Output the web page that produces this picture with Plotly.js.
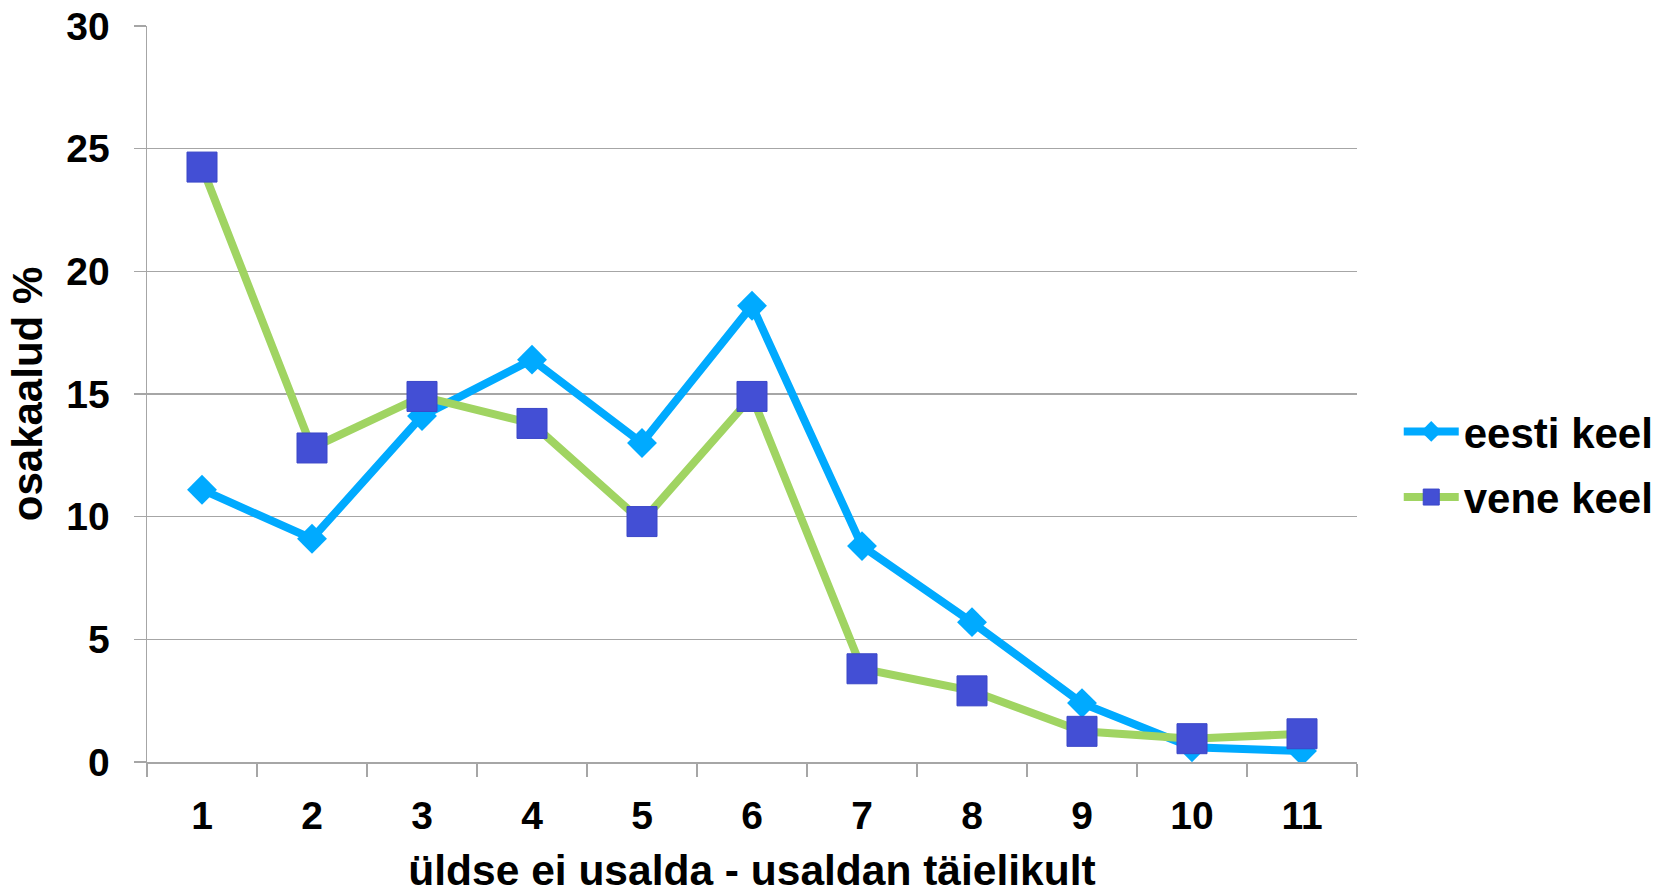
<!DOCTYPE html>
<html>
<head>
<meta charset="utf-8">
<script src="https://cdn.plot.ly/plotly-3.0.1.min.js"></script>
<style>html,body{margin:0;padding:0;background:#fff;}#chart{width:1659px;height:894px;}</style>
</head>
<body>
<div id="chart"></div>
<script>
const categories = ["1","2","3","4","5","6","7","8","9","10","11"];
const eestiKeel = [11.1, 9.1, 14.1, 16.4, 13.0, 18.6, 8.8, 5.7, 2.4, 0.6, 0.45];
const veneKeel = [24.25, 12.8, 14.9, 13.8, 9.8, 14.9, 3.8, 2.9, 1.25, 0.95, 1.15];
const seriesNames = ["eesti keel", "vene keel"];
const xTitle = "üldse ei usalda - usaldan täielikult";
const yTitle = "osakaalud %";

const FONT = "Liberation Sans, Arial, sans-serif";

const traces = [
  {
    x: categories, y: eestiKeel, name: seriesNames[0], type: "scatter", mode: "lines+markers",
    legendgroup: "a",
    line: {color: "#00aaff", width: 8},
    marker: {symbol: "diamond", size: 23, color: "#00aaff"}
  },
  {
    x: categories, y: veneKeel, name: seriesNames[1], type: "scatter", mode: "lines+markers",
    legendgroup: "b",
    line: {color: "#a0d462", width: 8},
    marker: {symbol: "square", size: 30, color: "#434fd5", line: {color: "#3b47c8", width: 1}}
  }
];

const layout = {
  width: 1659, height: 894,
  paper_bgcolor: "#ffffff", plot_bgcolor: "#ffffff",
  margin: {l: 147, r: 302, t: 26, b: 132, autoexpand: false},
  font: {family: FONT, color: "#000000", size: 36, weight: "bold"},
  showlegend: true,
  legend: {
    x: 1.0345, y: 0.404, xanchor: "left", yanchor: "middle",
    font: {family: FONT, size: 42, color: "#000", weight: "bold"},
    tracegroupgap: 8, itemwidth: 55, bgcolor: "rgba(0,0,0,0)"
  },
  xaxis: {
    type: "category",
    range: [-0.5, 10.5],
    tickson: "boundaries",
    ticks: "outside", ticklen: 13, tickwidth: 1.5, tickcolor: "#a6a6a6",
    showline: true, linecolor: "#a6a6a6", linewidth: 1.5,
    showgrid: false, zeroline: false,
    tickfont: {family: FONT, size: 39, color: "#000", weight: "bold"},
    ticklabelstandoff: 19,
    title: {text: xTitle, font: {family: FONT, size: 42.5, color: "#000", weight: "bold"}, standoff: 29},
    automargin: false,
    fixedrange: true
  },
  yaxis: {
    range: [0, 30], dtick: 5, tick0: 0,
    ticks: "outside", ticklen: 12, tickwidth: 1.5, tickcolor: "#a6a6a6",
    showline: true, linecolor: "#a6a6a6", linewidth: 1.5,
    showgrid: true, gridcolor: "#a6a6a6", gridwidth: 1.5,
    zeroline: false,
    tickfont: {family: FONT, size: 39, color: "#000", weight: "bold"},
    ticklabelstandoff: 16,
    title: {text: yTitle, font: {family: FONT, size: 42, color: "#000", weight: "bold"}, standoff: 10},
    automargin: false,
    fixedrange: true
  }
};

Plotly.newPlot("chart", traces, layout, {displayModeBar: false, staticPlot: true});
</script>
</body>
</html>
